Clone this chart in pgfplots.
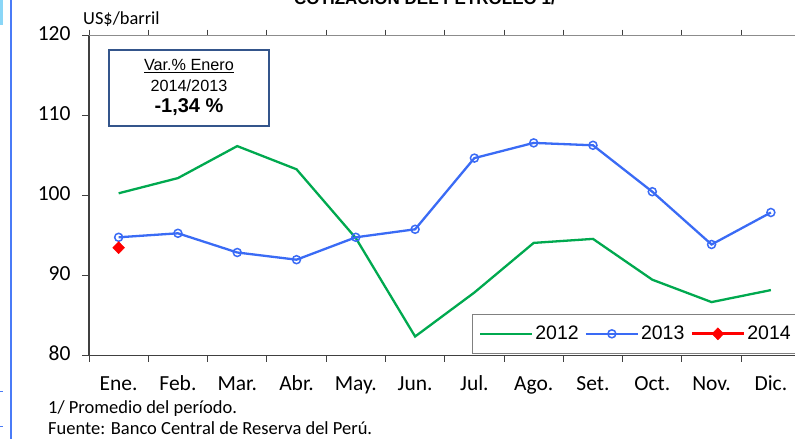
\documentclass[border=0pt]{standalone}
\usepackage{pgfplots}
\pgfplotsset{compat=1.18}
\usepackage{fontspec}
\setmainfont{Carlito}
\newfontfamily\calibri{Carlito}
\newfontfamily\arial{Liberation Sans}
\definecolor{cgreen}{HTML}{00A94F}
\definecolor{cblue}{HTML}{3A6BF5}
\definecolor{cred}{HTML}{FF0000}
\definecolor{boxblue}{HTML}{34558B}
\definecolor{slideblue}{HTML}{4A7BF7}
\definecolor{lightcyan}{HTML}{8AD6F7}
\begin{document}
\begin{tikzpicture}[x=1bp,y=1bp]
\useasboundingbox (0,0) rectangle (795,439);
% slide decorations
\fill[lightcyan] (0,439) rectangle (3,414);
\draw[slideblue, line width=2bp] (11,0) -- (11,439);
\draw[slideblue, line width=1bp] (0,47) -- (3,47);
\draw[slideblue, line width=1bp] (0,12) -- (3,12);
% title (partially out of frame, as in the reference)
\node[anchor=base, font=\arial\bfseries\fontsize{17bp}{20bp}\selectfont, inner sep=0] at (425,434) {COTIZACIÓN DEL PETRÓLEO 1/};
\begin{axis}[
  scale only axis,
  width=711.5bp, height=320bp,
  at={(89bp,83.3bp)}, anchor=south west,
  xmin=-0.5, xmax=11.5, ymin=80, ymax=120,
  axis line style={draw=none},
  xtick={0,...,11},
  xticklabels={Ene.,Feb.,Mar.,Abr.,May.,Jun.,Jul.,Ago.,Set.,Oct.,Nov.,Dic.},
  major x tick style={draw=none},
  minor xtick={-0.5,0.5,...,10.5},
  minor tick length=6bp,
  minor x tick style={draw=black!75, line width=1bp},
  ytick={80,90,...,120},
  major tick length=7bp,
  y tick style={draw=black!75, line width=1bp},
  tick align=outside,
  typeset ticklabels with strut,
  xticklabel style={font=\calibri\fontsize{21.5bp}{24bp}\selectfont, yshift=-7bp},
  yticklabel style={font=\calibri\fontsize{21.5bp}{24bp}\selectfont, xshift=-8bp},
  /pgf/number format/assume math mode=true,
  clip=false,
  legend columns=3,
  legend style={at={(rel axis cs:0.9995,0.006)}, anchor=south east,
    draw=black!50, line width=0.8bp,
    font=\arial\fontsize{19.5bp}{22bp}\selectfont,
    inner xsep=7bp, inner ysep=10bp,
    /tikz/every even column/.append style={column sep=4bp}},
  legend image code/.code={\draw[mark repeat=2,mark phase=2,#1] plot coordinates {(0bp,0bp) (26bp,0bp) (52bp,0bp)};},
]
\draw[black!75, line width=1.5bp] (rel axis cs:0,0) -- (rel axis cs:0,1);
\draw[black!75, line width=1.5bp] (rel axis cs:0,0) -- (rel axis cs:1,0);
\draw[black!45, line width=1.5bp] (rel axis cs:0,1) -- (rel axis cs:1,1);
\addplot[cgreen, line width=2.3bp, mark=none] coordinates {
 (0,100.3) (1,102.2) (2,106.2) (3,103.3) (4,94.7) (5,82.4)
 (6,87.9) (7,94.1) (8,94.6) (9,89.5) (10,86.7) (11,88.2)};
\addlegendentry{2012}
\addplot[cblue, line width=2.3bp, mark=o, mark size=4bp, mark options={fill=white, line width=1.5bp}] coordinates {
 (0,94.8) (1,95.3) (2,92.9) (3,92.0) (4,94.8) (5,95.8)
 (6,104.7) (7,106.6) (8,106.3) (9,100.5) (10,93.9) (11,97.9)};
\addlegendentry{2013}
\addplot[cred, line width=3bp, mark=diamond*, mark size=6bp, mark options={line width=0.5bp, xscale=1.3}] coordinates {(0,93.5)};
\addlegendentry{2014}
\end{axis}
% unit label
\node[anchor=base west, font=\calibri\fontsize{18.4bp}{21bp}\selectfont, inner sep=0] at (83,414) {US\$/barril};
% annotation box
\draw[boxblue, line width=1.5bp, fill=white] (109,439-50) rectangle (269,439-126);
\node[font=\arial\fontsize{16.2bp}{19bp}\selectfont, inner sep=0] at (189,439-66) {\underline{Var.\% Enero}};
\node[font=\arial\fontsize{16.2bp}{19bp}\selectfont, inner sep=0] at (189,439-86) {2014/2013};
\node[font=\arial\bfseries\fontsize{20bp}{23bp}\selectfont, inner sep=0] at (189,439-107) {-1,34 \%};
% footnotes
\node[anchor=base west, font=\calibri\fontsize{18.5bp}{21bp}\selectfont, inner sep=0] at (48,439-414) {1/ Promedio del período.};
\node[anchor=base west, font=\calibri\fontsize{18.5bp}{21bp}\selectfont, inner sep=0] at (48,439-435) {Fuente: Banco Central de Reserva del Perú.};
\end{tikzpicture}
\end{document}
